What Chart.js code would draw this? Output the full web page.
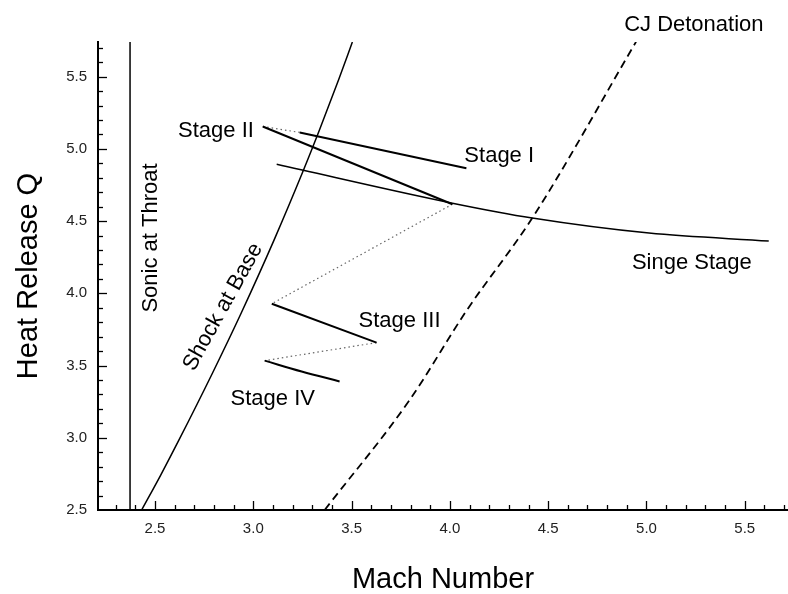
<!DOCTYPE html>
<html>
<head>
<meta charset="utf-8">
<script src="https://cdn.jsdelivr.net/npm/chart.js@4/dist/chart.umd.min.js"></script>
<style>
  body { margin: 0; background: #fff; }
  #wrap { width: 788px; height: 594px; }
</style>
</head>
<body>
<div id="wrap"><canvas id="chart" width="788" height="594"></canvas></div>
<script>
// axis ticks
var machTicks = [2.5, 3.0, 3.5, 4.0, 4.5, 5.0, 5.5];
var heatTicks = [2.5, 3.0, 3.5, 4.0, 4.5, 5.0, 5.5];

// boundary curves
var sonicMach = [2.373, 2.373];
var sonicQ    = [2.5, 5.74];

var shockMach = [2.432, 2.529, 2.622, 2.792, 2.938, 3.106, 3.256, 3.337, 3.434, 3.504];
var shockQ    = [2.5, 2.742, 2.985, 3.447, 3.862, 4.370, 4.855, 5.132, 5.478, 5.74];

var cjMach = [3.363, 3.794, 4.084, 4.419, 4.947];
var cjQ    = [2.5, 3.259, 3.879, 4.521, 5.741];

var singeMach = [3.119, 4.013, 4.419, 5.013, 5.622];
var singeQ    = [4.893, 4.624, 4.521, 4.417, 4.362];

// staged solutions
var stage1Mach = [3.236, 4.084];
var stage1Q    = [5.114, 4.866];
var stage2Mach = [3.048, 4.013];
var stage2Q    = [5.155, 4.617];
var stage3Mach = [3.094, 3.627];
var stage3Q    = [3.928, 3.659];
var stage4Mach = [3.058, 3.246, 3.439];
var stage4Q    = [3.534, 3.459, 3.390];

// dotted jumps between stages
var jump12Mach = [3.048, 3.236];
var jump12Q    = [5.155, 5.114];
var jump23Mach = [4.013, 3.094];
var jump23Q    = [4.617, 3.928];
var jump34Mach = [3.627, 3.058];
var jump34Q    = [3.659, 3.534];

// curve labels, placed in data units
var labels = [
  { text: 'Stage II',        x: 2.810, y: 5.121, rot: 0 },
  { text: 'Stage I',         x: 4.251, y: 4.948, rot: 0 },
  { text: 'Singe Stage',     x: 5.231, y: 4.210, rot: 0 },
  { text: 'Stage III',       x: 3.744, y: 3.810, rot: 0 },
  { text: 'Stage IV',        x: 3.099, y: 3.272, rot: 0 },
  { text: 'CJ Detonation',   x: 5.241, y: 5.859, rot: 0 },
  { text: 'Sonic at Throat', x: 2.478, y: 4.383, rot: -90 },
  { text: 'Shock at Base',   x: 2.846, y: 3.906, rot: -61 }
];

function pts(xs, ys) {
  return xs.map(function (x, i) { return { x: x, y: ys[i] }; });
}

function solid(data, width, smooth) {
  return {
    data: data, showLine: true, pointRadius: 0, borderColor: '#000',
    borderWidth: width, fill: false,
    cubicInterpolationMode: smooth ? 'monotone' : 'default'
  };
}

function dotted(data) {
  return {
    data: data, showLine: true, pointRadius: 0, borderColor: '#666',
    borderWidth: 1.2, borderDash: [1.5, 3], fill: false
  };
}

var cj = solid(pts(cjMach, cjQ), 1.8, true);
cj.borderDash = [8, 5];

var stage4 = solid(pts(stage4Mach, stage4Q), 2, false);
stage4.tension = 0.4;

var font = '"Liberation Sans", Arial, Helvetica, sans-serif';

var innerTicks = {
  id: 'innerTicks',
  afterDraw: function (chart) {
    var ctx = chart.ctx, xs = chart.scales.x, ys = chart.scales.y;
    var area = chart.chartArea;
    ctx.save();
    ctx.strokeStyle = '#000';
    ctx.lineWidth = 1.3;
    var v, p, len;
    for (v = 23; v <= 57; v++) {
      p = Math.round(xs.getPixelForValue(v / 10)) + 0.5;
      len = v % 5 === 0 ? 9 : 5;
      ctx.beginPath(); ctx.moveTo(p, area.bottom); ctx.lineTo(p, area.bottom - len); ctx.stroke();
    }
    for (v = 26; v <= 57; v++) {
      p = Math.round(ys.getPixelForValue(v / 10)) + 0.5;
      len = v % 5 === 0 ? 9 : 5;
      ctx.beginPath(); ctx.moveTo(area.left, p); ctx.lineTo(area.left + len, p); ctx.stroke();
    }
    ctx.restore();
  }
};

var curveLabels = {
  id: 'curveLabels',
  afterDraw: function (chart) {
    var ctx = chart.ctx, xs = chart.scales.x, ys = chart.scales.y;
    ctx.save();
    ctx.fillStyle = '#000';
    ctx.font = '22px ' + font;
    ctx.textAlign = 'center';
    ctx.textBaseline = 'middle';
    labels.forEach(function (l) {
      ctx.save();
      ctx.translate(xs.getPixelForValue(l.x), ys.getPixelForValue(l.y));
      ctx.rotate(l.rot * Math.PI / 180);
      ctx.fillText(l.text, 0, 0);
      ctx.restore();
    });
    ctx.restore();
  }
};

new Chart(document.getElementById('chart'), {
  type: 'scatter',
  data: {
    datasets: [
      solid(pts(sonicMach, sonicQ), 1.5, false),
      solid(pts(shockMach, shockQ), 1.5, true),
      cj,
      solid(pts(singeMach, singeQ), 1.5, true),
      solid(pts(stage1Mach, stage1Q), 2, false),
      solid(pts(stage2Mach, stage2Q), 2, false),
      solid(pts(stage3Mach, stage3Q), 2, false),
      stage4,
      dotted(pts(jump12Mach, jump12Q)),
      dotted(pts(jump23Mach, jump23Q)),
      dotted(pts(jump34Mach, jump34Q))
    ]
  },
  options: {
    responsive: false,
    animation: false,
    devicePixelRatio: 1,
    layout: { padding: { top: 42, right: 0, bottom: 0, left: 0 } },
    plugins: { legend: { display: false }, tooltip: { enabled: false } },
    scales: {
      x: {
        type: 'linear', min: 2.21, max: 5.72,
        afterBuildTicks: function (s) { s.ticks = machTicks.map(function (v) { return { value: v }; }); },
        afterFit: function (s) { s.height = 84; },
        grid: { display: true, drawOnChartArea: false, drawTicks: false },
        border: { display: true, color: '#000', width: 2 },
        ticks: {
          padding: 10, color: '#222',
          font: { family: font, size: 15 },
          callback: function (v) { return v.toFixed(1); }
        },
        title: {
          display: true, text: 'Mach Number', color: '#000',
          font: { family: font, size: 29, lineHeight: 1 },
          padding: { top: 0, bottom: 0 }
        }
      },
      y: {
        type: 'linear', min: 2.5, max: 5.74,
        afterBuildTicks: function (s) { s.ticks = heatTicks.map(function (v) { return { value: v }; }); },
        afterFit: function (s) { s.width = 98; },
        grid: { display: true, drawOnChartArea: false, drawTicks: false },
        border: { display: true, color: '#000', width: 2 },
        ticks: {
          padding: 11, color: '#222',
          font: { family: font, size: 15 },
          callback: function (v) { return v.toFixed(1); }
        },
        title: {
          display: true, text: 'Heat Release Q', color: '#000',
          font: { family: font, size: 29, lineHeight: 1 },
          padding: { top: 14, bottom: 0 }
        }
      }
    }
  },
  plugins: [innerTicks, curveLabels]
});
</script>
</body>
</html>
